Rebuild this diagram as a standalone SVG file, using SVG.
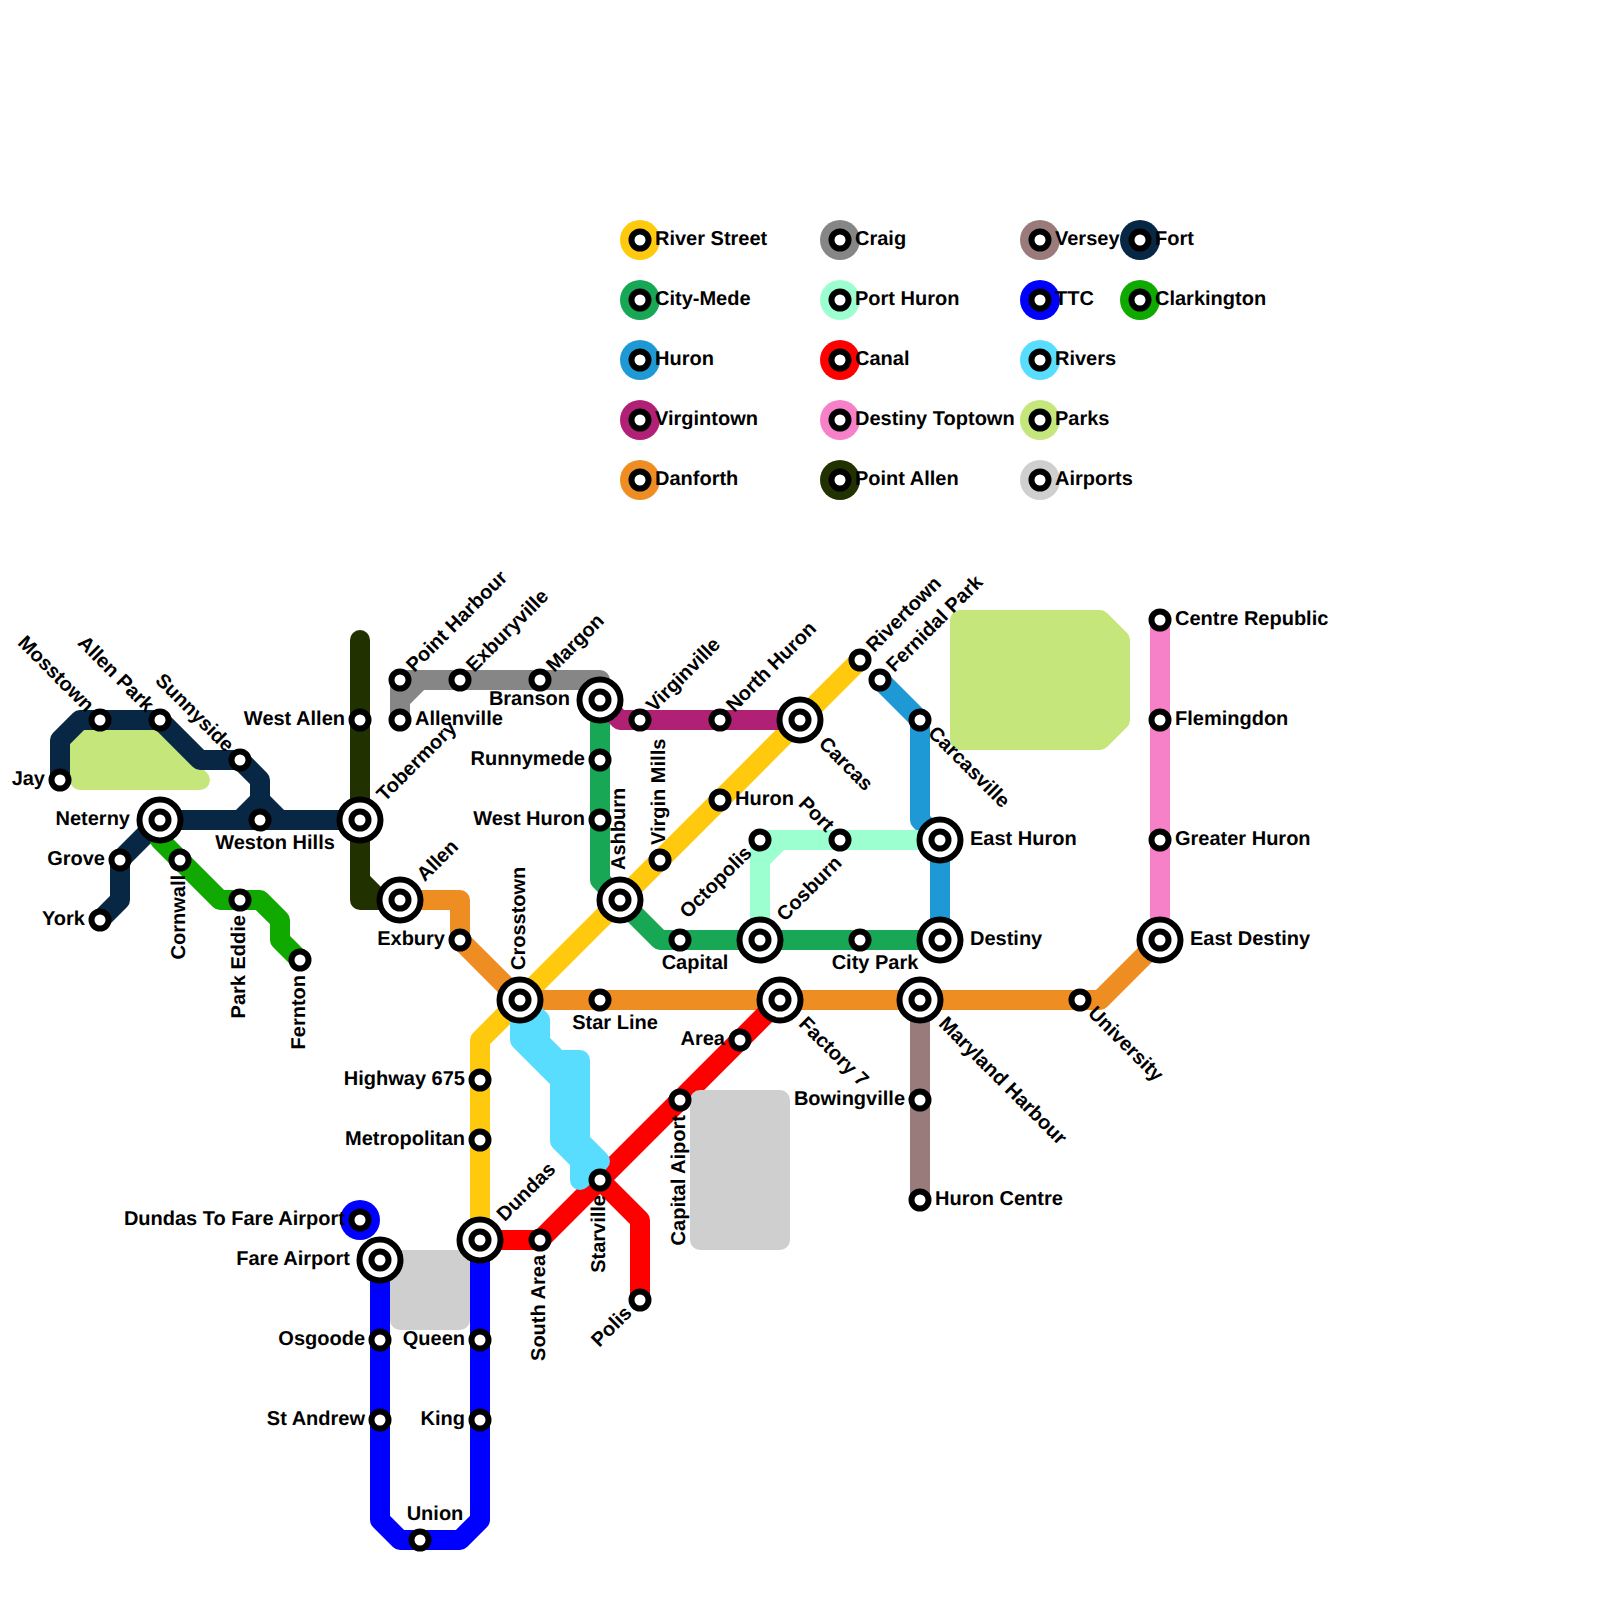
<svg xmlns="http://www.w3.org/2000/svg" width="1600" height="1600" viewBox="0 0 1600 1600">
<style>
text{font-family:"Liberation Sans",Arial,sans-serif;font-weight:bold;font-size:20px;fill:#000;text-rendering:geometricPrecision}
.e{text-anchor:end}
.m{text-anchor:middle}
.l{fill:none;stroke-width:20;stroke-linecap:round;stroke-linejoin:round}
.a{stroke-width:20;stroke-linejoin:round}
.st{fill:#fff;stroke:#000;stroke-width:6}
</style>
<defs>
<g id="s"><circle class="st" r="8.5"/></g>
<g id="x"><circle class="st" r="20.5"/><circle class="st" r="8.5"/></g>
</defs>
<rect width="1600" height="1600" fill="#fff"/>
<g id="connectors">
<path class="l" stroke="#FFC90E" d="M480,1240V1040L520,1000L860,660"/>
<path class="l" stroke="#17A755" d="M600,700V880L620,900L660,940H940"/>
<path class="l" stroke="#1F98D6" d="M880,680L920,720V820L940,840V940"/>
<path class="l" stroke="#B02176" d="M600,700L620,720H800"/>
<path class="l" stroke="#EE8D21" d="M400,900H460V940L520,1000H1100L1160,940"/>
<path class="l" stroke="#868686" d="M400,720V680H600V700M400,700L420,680"/>
<path class="l" stroke="#9BFFCF" d="M760,940V860L780,840H940M760,860V840H780"/>
<path class="l" stroke="#FF0000" d="M480,1240H540L780,1000M600,1180L640,1220V1300"/>
<path class="l" stroke="#F781C9" d="M1160,620V940"/>
<path class="l" stroke="#213200" d="M360,640V880L380,900H400M360,880V900H380"/>
<path class="l" stroke="#9A7B7C" d="M920,1000V1200"/>
<path class="l" stroke="#0000FF" d="M380,1260V1520L400,1540H460L480,1520V1240"/>
<circle cx="360" cy="1220" r="20" fill="#0000FF"/>
<path class="a" fill="#59DDFF" stroke="#59DDFF" d="M520,1000L540,1020V1042L558,1060H580V1141L600,1161L580,1180V1161L560,1141V1080L520,1040Z"/>
<path class="a" fill="#C5E67B" stroke="#C5E67B" d="M80,740H160L200,780H80Z"/>
<path class="a" fill="#C5E67B" stroke="#C5E67B" d="M960,620H1100L1120,640V720L1100,740H960Z"/>
<path class="a" fill="#CFCFCF" stroke="#CFCFCF" d="M700,1100H780V1240H700Z"/>
<path class="a" fill="#CFCFCF" stroke="#CFCFCF" d="M400,1260H460V1320H400Z"/>
<path class="l" stroke="#072745" d="M60,780V740L80,720H160L200,760H240L260,780V800L280,820M160,820H360M240,820L260,800M160,820L120,860V900L100,920"/>
<path class="l" stroke="#0FA900" d="M160,840L220,900H260L280,920V940L300,960"/>
</g>
<g id="legend">
<g id="lg-river-street" transform="translate(640,240)"><circle r="20" fill="#FFC90E"/><use href="#s"/><text x="15" y="5">River Street</text></g>
<g id="lg-city-mede" transform="translate(640,300)"><circle r="20" fill="#17A755"/><use href="#s"/><text x="15" y="5">City-Mede</text></g>
<g id="lg-huron" transform="translate(640,360)"><circle r="20" fill="#1F98D6"/><use href="#s"/><text x="15" y="5">Huron</text></g>
<g id="lg-virgintown" transform="translate(640,420)"><circle r="20" fill="#B02176"/><use href="#s"/><text x="15" y="5">Virgintown</text></g>
<g id="lg-danforth" transform="translate(640,480)"><circle r="20" fill="#EE8D21"/><use href="#s"/><text x="15" y="5">Danforth</text></g>
<g id="lg-craig" transform="translate(840,240)"><circle r="20" fill="#868686"/><use href="#s"/><text x="15" y="5">Craig</text></g>
<g id="lg-port-huron" transform="translate(840,300)"><circle r="20" fill="#9BFFCF"/><use href="#s"/><text x="15" y="5">Port Huron</text></g>
<g id="lg-canal" transform="translate(840,360)"><circle r="20" fill="#FF0000"/><use href="#s"/><text x="15" y="5">Canal</text></g>
<g id="lg-destiny-toptown" transform="translate(840,420)"><circle r="20" fill="#F781C9"/><use href="#s"/><text x="15" y="5">Destiny Toptown</text></g>
<g id="lg-point-allen" transform="translate(840,480)"><circle r="20" fill="#213200"/><use href="#s"/><text x="15" y="5">Point Allen</text></g>
<g id="lg-versey" transform="translate(1040,240)"><circle r="20" fill="#9A7B7C"/><use href="#s"/><text x="15" y="5">Versey</text></g>
<g id="lg-ttc" transform="translate(1040,300)"><circle r="20" fill="#0000FF"/><use href="#s"/><text x="15" y="5">TTC</text></g>
<g id="lg-rivers" transform="translate(1040,360)"><circle r="20" fill="#59DDFF"/><use href="#s"/><text x="15" y="5">Rivers</text></g>
<g id="lg-parks" transform="translate(1040,420)"><circle r="20" fill="#C5E67B"/><use href="#s"/><text x="15" y="5">Parks</text></g>
<g id="lg-airports" transform="translate(1040,480)"><circle r="20" fill="#CFCFCF"/><use href="#s"/><text x="15" y="5">Airports</text></g>
<g id="lg-fort" transform="translate(1140,240)"><circle r="20" fill="#072745"/><use href="#s"/><text x="15" y="5">Fort</text></g>
<g id="lg-clarkington" transform="translate(1140,300)"><circle r="20" fill="#0FA900"/><use href="#s"/><text x="15" y="5">Clarkington</text></g>
</g>
<g id="stations">
<g id="n-jay" transform="translate(60,780)"><use href="#s"/><text class="e" x="-15" y="5">Jay</text></g>
<g id="n-mosstown" transform="translate(100,720)"><use href="#s"/><text class="e" transform="rotate(45)" x="-15" y="5">Mosstown</text></g>
<g id="n-allen-park" transform="translate(160,720)"><use href="#s"/><text class="e" transform="rotate(45)" x="-15" y="5">Allen Park</text></g>
<g id="n-sunnyside" transform="translate(240,760)"><use href="#s"/><text class="e" transform="rotate(45)" x="-15" y="5">Sunnyside</text></g>
<g id="n-neterny" transform="translate(160,820)"><use href="#x"/><text class="e" x="-30" y="5">Neterny</text></g>
<g id="n-weston-hills" transform="translate(260,820)"><use href="#s"/><text class="m" x="15" y="29">Weston Hills</text></g>
<g id="n-grove" transform="translate(120,860)"><use href="#s"/><text class="e" x="-15" y="5">Grove</text></g>
<g id="n-york" transform="translate(100,920)"><use href="#s"/><text class="e" x="-15" y="5">York</text></g>
<g id="n-cornwall" transform="translate(180,860)"><use href="#s"/><text class="e" transform="rotate(-90)" x="-15" y="5">Cornwall</text></g>
<g id="n-park-eddie" transform="translate(240,900)"><use href="#s"/><text class="e" transform="rotate(-90)" x="-15" y="5">Park Eddie</text></g>
<g id="n-fernton" transform="translate(300,960)"><use href="#s"/><text class="e" transform="rotate(-90)" x="-15" y="5">Fernton</text></g>
<g id="n-west-allen" transform="translate(360,720)"><use href="#s"/><text class="e" x="-15" y="5">West Allen</text></g>
<g id="n-tobermory" transform="translate(360,820)"><use href="#x"/><text transform="rotate(-45)" x="30" y="5">Tobermory</text></g>
<g id="n-allen" transform="translate(400,900)"><use href="#x"/><text transform="rotate(-45)" x="30" y="5">Allen</text></g>
<g id="n-point-harbour" transform="translate(400,680)"><use href="#s"/><text transform="rotate(-45)" x="15" y="5">Point Harbour</text></g>
<g id="n-allenville" transform="translate(400,720)"><use href="#s"/><text x="15" y="5">Allenville</text></g>
<g id="n-exburyville" transform="translate(460,680)"><use href="#s"/><text transform="rotate(-45)" x="15" y="5">Exburyville</text></g>
<g id="n-margon" transform="translate(540,680)"><use href="#s"/><text transform="rotate(-45)" x="15" y="5">Margon</text></g>
<g id="n-exbury" transform="translate(460,940)"><use href="#s"/><text class="e" x="-15" y="5">Exbury</text></g>
<g id="n-crosstown" transform="translate(520,1000)"><use href="#x"/><text transform="rotate(-90)" x="30" y="5">Crosstown</text></g>
<g id="n-branson" transform="translate(600,700)"><use href="#x"/><text class="e" x="-30" y="5">Branson</text></g>
<g id="n-runnymede" transform="translate(600,760)"><use href="#s"/><text class="e" x="-15" y="5">Runnymede</text></g>
<g id="n-west-huron" transform="translate(600,820)"><use href="#s"/><text class="e" x="-15" y="5">West Huron</text></g>
<g id="n-ashburn" transform="translate(620,900)"><use href="#x"/><text transform="rotate(-90)" x="30" y="5">Ashburn</text></g>
<g id="n-virginville" transform="translate(640,720)"><use href="#s"/><text transform="rotate(-45)" x="15" y="5">Virginville</text></g>
<g id="n-north-huron" transform="translate(720,720)"><use href="#s"/><text transform="rotate(-45)" x="15" y="5">North Huron</text></g>
<g id="n-carcas" transform="translate(800,720)"><use href="#x"/><text transform="rotate(45)" x="30" y="5">Carcas</text></g>
<g id="n-rivertown" transform="translate(860,660)"><use href="#s"/><text transform="rotate(-45)" x="15" y="5">Rivertown</text></g>
<g id="n-fernidal-park" transform="translate(880,680)"><use href="#s"/><text transform="rotate(-45)" x="15" y="5">Fernidal Park</text></g>
<g id="n-carcasville" transform="translate(920,720)"><use href="#s"/><text transform="rotate(45)" x="15" y="5">Carcasville</text></g>
<g id="n-virgin-mills" transform="translate(660,860)"><use href="#s"/><text transform="rotate(-90)" x="15" y="5">Virgin Mills</text></g>
<g id="n-huron" transform="translate(720,800)"><use href="#s"/><text x="15" y="5">Huron</text></g>
<g id="n-octopolis" transform="translate(760,840)"><use href="#s"/><text class="e" transform="rotate(-45)" x="-15" y="5">Octopolis</text></g>
<g id="n-port" transform="translate(840,840)"><use href="#s"/><text class="e" transform="rotate(45)" x="-15" y="5">Port</text></g>
<g id="n-east-huron" transform="translate(940,840)"><use href="#x"/><text x="30" y="5">East Huron</text></g>
<g id="n-capital" transform="translate(680,940)"><use href="#s"/><text class="m" x="15" y="29">Capital</text></g>
<g id="n-cosburn" transform="translate(760,940)"><use href="#x"/><text transform="rotate(-45)" x="30" y="5">Cosburn</text></g>
<g id="n-city-park" transform="translate(860,940)"><use href="#s"/><text class="m" x="15" y="29">City Park</text></g>
<g id="n-destiny" transform="translate(940,940)"><use href="#x"/><text x="30" y="5">Destiny</text></g>
<g id="n-star-line" transform="translate(600,1000)"><use href="#s"/><text class="m" x="15" y="29">Star Line</text></g>
<g id="n-factory-7" transform="translate(780,1000)"><use href="#x"/><text transform="rotate(45)" x="30" y="5">Factory 7</text></g>
<g id="n-maryland-harbour" transform="translate(920,1000)"><use href="#x"/><text transform="rotate(45)" x="30" y="5">Maryland Harbour</text></g>
<g id="n-university" transform="translate(1080,1000)"><use href="#s"/><text transform="rotate(45)" x="15" y="5">University</text></g>
<g id="n-centre-republic" transform="translate(1160,620)"><use href="#s"/><text x="15" y="5">Centre Republic</text></g>
<g id="n-flemingdon" transform="translate(1160,720)"><use href="#s"/><text x="15" y="5">Flemingdon</text></g>
<g id="n-greater-huron" transform="translate(1160,840)"><use href="#s"/><text x="15" y="5">Greater Huron</text></g>
<g id="n-east-destiny" transform="translate(1160,940)"><use href="#x"/><text x="30" y="5">East Destiny</text></g>
<g id="n-area" transform="translate(740,1040)"><use href="#s"/><text class="e" x="-15" y="5">Area</text></g>
<g id="n-capital-aiport" transform="translate(680,1100)"><use href="#s"/><text class="e" transform="rotate(-90)" x="-15" y="5">Capital Aiport</text></g>
<g id="n-bowingville" transform="translate(920,1100)"><use href="#s"/><text class="e" x="-15" y="5">Bowingville</text></g>
<g id="n-huron-centre" transform="translate(920,1200)"><use href="#s"/><text x="15" y="5">Huron Centre</text></g>
<g id="n-highway-675" transform="translate(480,1080)"><use href="#s"/><text class="e" x="-15" y="5">Highway 675</text></g>
<g id="n-metropolitan" transform="translate(480,1140)"><use href="#s"/><text class="e" x="-15" y="5">Metropolitan</text></g>
<g id="n-starville" transform="translate(600,1180)"><use href="#s"/><text class="e" transform="rotate(-90)" x="-15" y="5">Starville</text></g>
<g id="n-dundas" transform="translate(480,1240)"><use href="#x"/><text transform="rotate(-45)" x="30" y="5">Dundas</text></g>
<g id="n-south-area" transform="translate(540,1240)"><use href="#s"/><text class="e" transform="rotate(-90)" x="-15" y="5">South Area</text></g>
<g id="n-polis" transform="translate(640,1300)"><use href="#s"/><text class="e" transform="rotate(-45)" x="-15" y="5">Polis</text></g>
<g id="n-dundas-to-fare-airport" transform="translate(360,1220)"><use href="#s"/><text class="e" x="-15" y="5">Dundas To Fare Airport</text></g>
<g id="n-fare-airport" transform="translate(380,1260)"><use href="#x"/><text class="e" x="-30" y="5">Fare Airport</text></g>
<g id="n-osgoode" transform="translate(380,1340)"><use href="#s"/><text class="e" x="-15" y="5">Osgoode</text></g>
<g id="n-st-andrew" transform="translate(380,1420)"><use href="#s"/><text class="e" x="-15" y="5">St Andrew</text></g>
<g id="n-queen" transform="translate(480,1340)"><use href="#s"/><text class="e" x="-15" y="5">Queen</text></g>
<g id="n-king" transform="translate(480,1420)"><use href="#s"/><text class="e" x="-15" y="5">King</text></g>
<g id="n-union" transform="translate(420,1540)"><use href="#s"/><text class="m" x="15" y="-20">Union</text></g>
</g>
</svg>
